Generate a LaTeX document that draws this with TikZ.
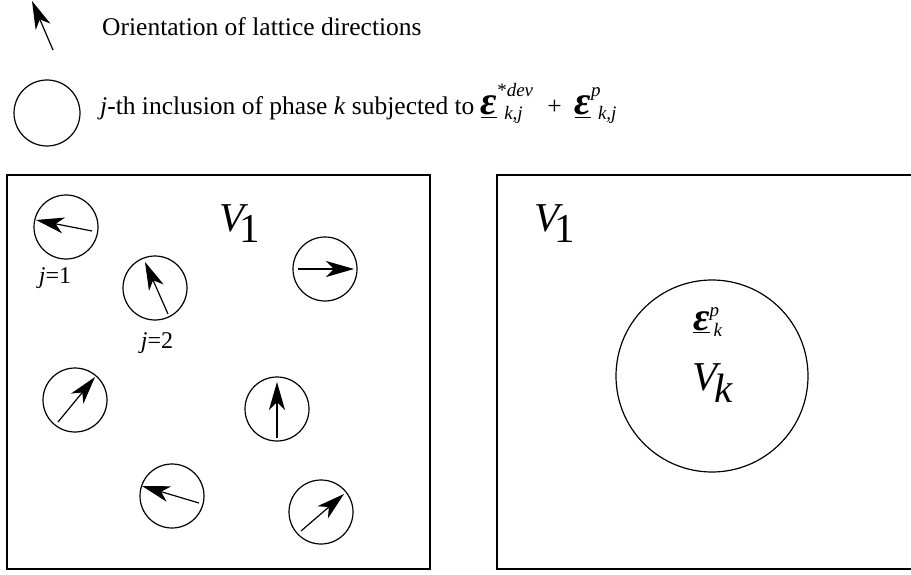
\documentclass[tikz,border=0pt]{standalone}
\usepackage{fontspec}
\setmainfont{Liberation Serif}
\usetikzlibrary{arrows.meta}
\newcommand{\epsfont}{\fontsize{40}{40}\selectfont\bfseries\itshape}
\newcommand{\idxfont}{\fontsize{19}{19}\selectfont}
% #1 sup, #2 sub, #3 raise, #4 lower, #5 sub shift, #6 advance
\newcommand{\epsterm}[6]{{\underline{\epsfont ε}}\rlap{\raisebox{#3}{\idxfont #1}}\rlap{\kern#5\raisebox{-#4}{\idxfont\itshape #2}}\kern#6}
\tikzset{
  incl/.style={draw, circle, line width=1.2pt, minimum size=64pt, inner sep=0pt},
  dirarrow/.style={line width=1.2pt, -{Stealth[length=28pt,width=16pt,inset=8pt]}},
  body/.style={draw, line width=1.3pt},
  txt/.style={font=\fontsize{25.5}{30}\selectfont, inner sep=0pt, anchor=base west},
  lbl/.style={font=\fontsize{24}{28}\selectfont, inner sep=0pt, anchor=base},
  vol/.style={font=\fontsize{41}{45}\selectfont, inner sep=0pt, anchor=base west}
}
\begin{document}
\begin{tikzpicture}[x=1pt,y=-1pt]
\useasboundingbox (0,0) rectangle (911,575);
% legend
\coordinate (la0) at (53,50);
\coordinate (la1) at (32,1);
\draw[dirarrow] (la0) -- (la1);
\node[txt] (t1) at (102,36) {Orientation of lattice directions};
\node[incl, minimum size=66pt] (lc) at (47,113) {};
\node[txt] (t2) at (100,115) {\textit{j}-th inclusion of phase \textit{k} subjected to \epsterm{*\textit{dev}}{k,j}{18pt}{5pt}{7pt}{50pt}+\hspace{13pt}\epsterm{\textit{p}}{k,j}{18pt}{5pt}{7pt}{30pt}};
% left box
\draw[body] (7,175) rectangle (430,569);
\node[vol] (v1a) at (219,232) {\textit{V}\kern-9pt\raisebox{-10pt}{1}};
\node[incl] (c1) at (66,227) {};
\draw[dirarrow] (92,231) -- (36,220);
\node[lbl] (j1) at (55,283) {\textit{j}=1};
\node[incl] (c2) at (155,288) {};
\draw[dirarrow] (168,314) -- (145,262);
\node[lbl] (j2) at (157,348) {\textit{j}=2};
\node[incl] (c3) at (325,269) {};
\draw[dirarrow] (298,269) -- (354,269);
\node[incl] (c4) at (75,400) {};
\draw[dirarrow] (58,422) -- (95,377);
\node[incl] (c5) at (277,409) {};
\draw[dirarrow] (277,438) -- (277,382);
\node[incl] (c6) at (172,496) {};
\draw[dirarrow] (199,503) -- (142,486);
\node[incl] (c7) at (321,512) {};
\draw[dirarrow] (301,531) -- (344,494);
% right box
\draw[body] (912,175) -- (497,175) -- (497,569) -- (912,569);
\node[vol] (v1b) at (534,232) {\textit{V}\kern-9pt\raisebox{-10pt}{1}};
\node[incl, minimum size=192pt] (ck) at (712,376) {};
\node[txt] (ek) at (693,330) {\epsterm{\textit{p}}{k}{14pt}{6pt}{4pt}{20pt}};
\node[vol] (vk) at (692,390) {\textit{V}\kern-7pt\raisebox{-12pt}{\textit{k}}};
\end{tikzpicture}
\end{document}
